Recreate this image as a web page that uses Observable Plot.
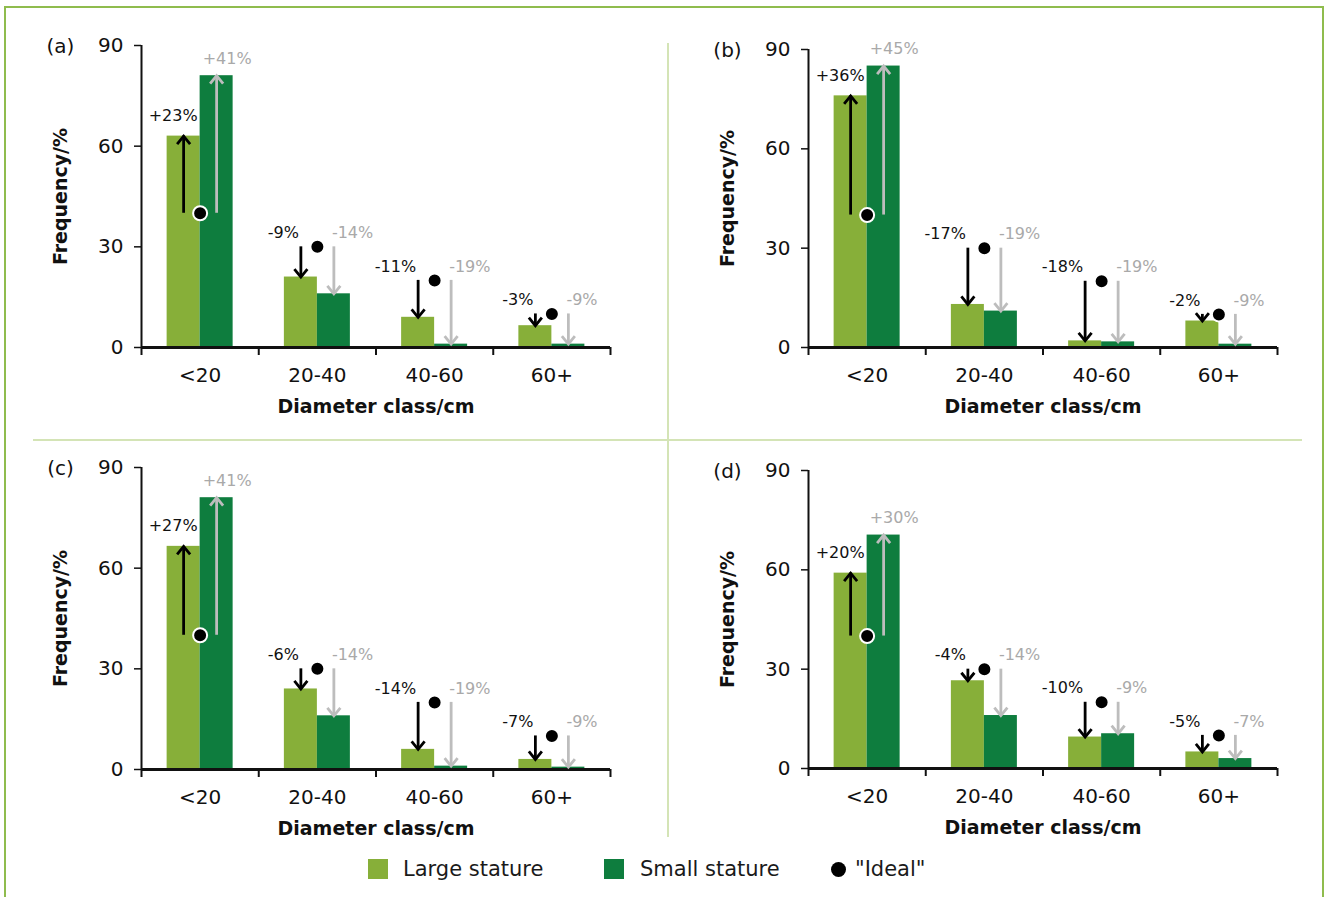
<!DOCTYPE html>
<html>
<head>
<meta charset="utf-8">
<script src="https://cdn.jsdelivr.net/npm/d3@7"></script>
<script src="https://cdn.jsdelivr.net/npm/@observablehq/plot@0.6"></script>
<style>
  html, body { margin: 0; padding: 0; background: #fff; }
  #fig { position: relative; width: 1328px; height: 897px; overflow: hidden; background: #fff; font-family: "DejaVu Sans", sans-serif; color: #1a1a1a; }
  .border { position: absolute; left: 4px; top: 6px; width: 1316px; height: 1000px; border: 2px solid #8fbc4d; }
  .hdiv { position: absolute; left: 33px; top: 439px; width: 1269px; height: 2px; background: #d4e4b6; }
  .vdiv { position: absolute; left: 667px; top: 43px; width: 2px; height: 794px; background: #d4e4b6; }
  .panel { position: absolute; width: 640px; }
  .panel svg { overflow: visible; max-width: none !important; display: block; }
  .legend { position: absolute; top: 858px; left: 0; height: 24px; font-size: 21px; }
  .legend .sw { position: absolute; top: 1px; width: 20px; height: 20px; }
  .legend .dot { position: absolute; top: 4px; width: 15px; height: 15px; border-radius: 50%; background: #000; }
  .legend .lb { position: absolute; top: -1px; white-space: nowrap; line-height: 24px; }
</style>
</head>
<body>
<div id="fig">
  <div class="border"></div>
  <div class="hdiv"></div>
  <div class="vdiv"></div>
  <div id="pa" class="panel"></div>
  <div id="pb" class="panel"></div>
  <div id="pc" class="panel"></div>
  <div id="pd" class="panel"></div>
  <div class="legend" id="legend"></div>
</div>
<script>
// ---- data ----
const categories = ["<20", "20-40", "40-60", "60+"];
const yTicks = [0, 30, 60, 90];
const ideal = [40, 30, 20, 10];

const largeA = [63, 21, 9, 6.5];
const smallA = [81, 16, 1, 1];
const largeLabelsA = ["+23%", "-9%", "-11%", "-3%"];
const smallLabelsA = ["+41%", "-14%", "-19%", "-9%"];

const largeB = [76, 13, 2, 8];
const smallB = [85, 11, 1.7, 1];
const largeLabelsB = ["+36%", "-17%", "-18%", "-2%"];
const smallLabelsB = ["+45%", "-19%", "-19%", "-9%"];

const largeC = [66.5, 24, 6, 3];
const smallC = [81, 16, 1, 0.7];
const largeLabelsC = ["+27%", "-6%", "-14%", "-7%"];
const smallLabelsC = ["+41%", "-14%", "-19%", "-9%"];

const largeD = [59, 26.5, 9.5, 5];
const smallD = [70.5, 16, 10.5, 3];
const largeLabelsD = ["+20%", "-4%", "-10%", "-5%"];
const smallLabelsD = ["+30%", "-14%", "-9%", "-7%"];

const seriesNames = ["Large stature", "Small stature", "\"Ideal\""];
const LIGHT = "#87af39";
const DARK = "#0e7d3e";
const GRAYARROW = "#bdbdbd";
const GRAYTEXT = "#a9a9a9";
const INK = "#111";

// ---- layout ----
const W = 640, ML = 110, MR = 61, MT = 30, MB = 80;
const plotW = W - ML - MR;
const step = plotW / categories.length;
const barW = 33;

const chevronUp = {draw(ctx) { ctx.moveTo(-6.5, 8); ctx.lineTo(0, 0); ctx.lineTo(6.5, 8); }};
const chevronDown = {draw(ctx) { ctx.moveTo(-6.5, -8); ctx.lineTo(0, 0); ctx.lineTo(6.5, -8); }};

function panel(id, large, small, lLab, sLab, frameH) {
  const rows = categories.map((c, i) => ({cat: c, ideal: ideal[i], large: large[i], small: small[i], lLab: lLab[i], sLab: sLab[i]}));
  const H = MT + frameH + MB;
  return Plot.plot({
    width: W, height: H,
    marginLeft: ML, marginRight: MR, marginTop: MT, marginBottom: MB,
    style: {fontFamily: "DejaVu Sans, sans-serif", fontSize: "20px", color: INK, background: "transparent", overflow: "visible"},
    x: {type: "band", domain: categories, padding: 0, round: false, axis: null},
    y: {domain: [0, 90], axis: null},
    marks: [
      Plot.barY(rows, {x: "cat", y: "large", fill: LIGHT, insetLeft: step / 2 - barW, insetRight: step / 2}),
      Plot.barY(rows, {x: "cat", y: "small", fill: DARK, insetLeft: step / 2, insetRight: step / 2 - barW}),
      // axis lines and ticks
      Plot.ruleX([categories[0]], {x: d => d, y1: 0, y2: 90, dx: -step / 2, stroke: INK, strokeWidth: 2}),
      Plot.ruleY(yTicks, {y: d => d, insetLeft: -7, insetRight: plotW, stroke: INK, strokeWidth: 1.5}),
      Plot.ruleY([0], {stroke: INK, strokeWidth: 3}),
      Plot.ruleX(categories, {x: d => d, dx: -step / 2, insetTop: frameH, insetBottom: -8, stroke: INK, strokeWidth: 2}),
      Plot.ruleX([categories[categories.length - 1]], {x: d => d, dx: step / 2, insetTop: frameH, insetBottom: -8, stroke: INK, strokeWidth: 2}),
      Plot.text(yTicks, {y: d => d, text: d => String(d), frameAnchor: "left", dx: -18, textAnchor: "end", lineAnchor: "middle", fontSize: 20, fill: INK}),
      Plot.text(categories, {x: d => d, text: d => d, frameAnchor: "bottom", dy: 28, textAnchor: "middle", lineAnchor: "middle", fontSize: 20, fill: INK}),
      Plot.text(["Diameter class/cm"], {text: d => d, frameAnchor: "bottom", dy: 59, textAnchor: "middle", lineAnchor: "middle", fontSize: 19, fontWeight: "bold", fill: INK}),
      Plot.text(["Frequency/%"], {text: d => d, frameAnchor: "left", dx: -81, rotate: -90, textAnchor: "middle", lineAnchor: "middle", fontSize: 19, fontWeight: "bold", fill: INK}),
      Plot.text([`(${id})`], {text: d => d, frameAnchor: "top-left", dx: -81, dy: 1, textAnchor: "middle", lineAnchor: "middle", fontSize: 20, fill: INK}),
      // arrows: large stature (black)
      Plot.ruleX(rows, {x: "cat", y1: "ideal", y2: "large", dx: -barW / 2, stroke: "#000", strokeWidth: 2.8}),
      Plot.dot(rows, {filter: d => d.large >= d.ideal, x: "cat", y: "large", dx: -barW / 2, symbol: chevronUp, r: 5, fill: "none", stroke: "#000", strokeWidth: 2.8}),
      Plot.dot(rows, {filter: d => d.large < d.ideal, x: "cat", y: "large", dx: -barW / 2, symbol: chevronDown, r: 5, fill: "none", stroke: "#000", strokeWidth: 2.8}),
      // arrows: small stature (gray)
      Plot.ruleX(rows, {x: "cat", y1: "ideal", y2: "small", dx: barW / 2, stroke: GRAYARROW, strokeWidth: 2.8}),
      Plot.dot(rows, {filter: d => d.small >= d.ideal, x: "cat", y: "small", dx: barW / 2, symbol: chevronUp, r: 5, fill: "none", stroke: GRAYARROW, strokeWidth: 2.8}),
      Plot.dot(rows, {filter: d => d.small < d.ideal, x: "cat", y: "small", dx: barW / 2, symbol: chevronDown, r: 5, fill: "none", stroke: GRAYARROW, strokeWidth: 2.8}),
      // ideal dots
      Plot.dot(rows, {x: "cat", y: "ideal", r: 7, fill: "#000", stroke: "#fff", strokeWidth: 2}),
      // change labels
      Plot.text(rows, {filter: d => d.large >= d.ideal, x: "cat", y: "large", text: "lLab", dx: -barW / 2 + 14, dy: -20, textAnchor: "end", lineAnchor: "middle", fontSize: 16, fill: INK}),
      Plot.text(rows, {filter: d => d.large < d.ideal, x: "cat", y: "ideal", text: "lLab", dx: -barW / 2 - 2, dy: -14, textAnchor: "end", lineAnchor: "middle", fontSize: 16, fill: INK}),
      Plot.text(rows, {filter: d => d.small >= d.ideal, x: "cat", y: "small", text: "sLab", dx: barW / 2 - 14, dy: -17, textAnchor: "start", lineAnchor: "middle", fontSize: 16, fill: GRAYTEXT}),
      Plot.text(rows, {filter: d => d.small < d.ideal, x: "cat", y: "ideal", text: "sLab", dx: barW / 2 - 2, dy: -14, textAnchor: "start", lineAnchor: "middle", fontSize: 16, fill: GRAYTEXT})
    ]
  });
}

function place(elId, svg, left, top) {
  const el = document.getElementById(elId);
  el.style.left = left + "px";
  el.style.top = top + "px";
  el.appendChild(svg);
}

place("pa", panel("a", largeA, smallA, largeLabelsA, smallLabelsA, 302), 141 - ML, 45 - MT);
place("pb", panel("b", largeB, smallB, largeLabelsB, smallLabelsB, 298), 808 - ML, 49 - MT);
place("pc", panel("c", largeC, smallC, largeLabelsC, smallLabelsC, 302), 141 - ML, 467 - MT);
place("pd", panel("d", largeD, smallD, largeLabelsD, smallLabelsD, 298), 808 - ML, 470 - MT);

// legend
const legend = document.getElementById("legend");
legend.innerHTML =
  `<div class="sw" style="left:368px;background:${LIGHT}"></div><div class="lb" style="left:403px"></div>` +
  `<div class="sw" style="left:604px;background:${DARK}"></div><div class="lb" style="left:640px"></div>` +
  `<div class="dot" style="left:831px"></div><div class="lb" style="left:855px"></div>`;
const lbs = legend.querySelectorAll(".lb");
lbs.forEach((el, i) => { el.textContent = seriesNames[i]; });
</script>
</body>
</html>
